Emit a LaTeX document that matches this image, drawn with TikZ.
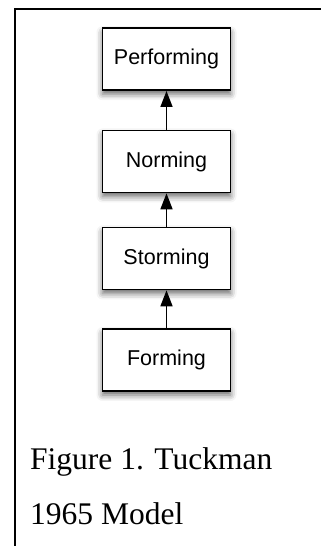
\documentclass[tikz,border=0pt]{standalone}
\usepackage{fontspec}
\setmainfont{Liberation Serif}
\newfontfamily\boxfont{Liberation Sans}
\usetikzlibrary{shadows.blur,arrows.meta}
\begin{document}
\begin{tikzpicture}[x=1pt,y=1pt,
  stagebox/.style={draw=black,line width=1.6pt,fill=white,minimum width=128pt,minimum height=62pt,inner sep=0pt,
    font=\boxfont\fontsize{21.5}{24}\selectfont,
    blur shadow={shadow xshift=0pt,shadow yshift=-4pt,shadow blur radius=6pt,shadow opacity=60}},
  uparrow/.style={line width=1.5pt,-{Triangle[length=16pt,width=12pt]}},
  frameline/.style={line width=2pt},
  captext/.style={anchor=base west,inner sep=0pt,font=\fontsize{31.5}{36}\selectfont}]
\useasboundingbox (0,0) rectangle (321,546);
\draw[frameline] (15,0) -- (15,537) -- (321,537);
\node[stagebox] (perf) at (166.5,486.8) {Performing};
\node[stagebox] (norm) at (166.5,384.5) {Norming};
\node[stagebox] (storm) at (166.5,287.5) {Storming};
\node[stagebox] (form) at (166.5,186) {Forming};
\draw[uparrow] (norm.north) -- (perf.south);
\draw[uparrow] (storm.north) -- (norm.south);
\draw[uparrow] (form.north) -- (storm.south);
\node[captext] (cap1) at (30,76) {Figure 1. Tuckman};
\node[captext] (cap2) at (30,21) {1965 Model};
\end{tikzpicture}
\end{document}
